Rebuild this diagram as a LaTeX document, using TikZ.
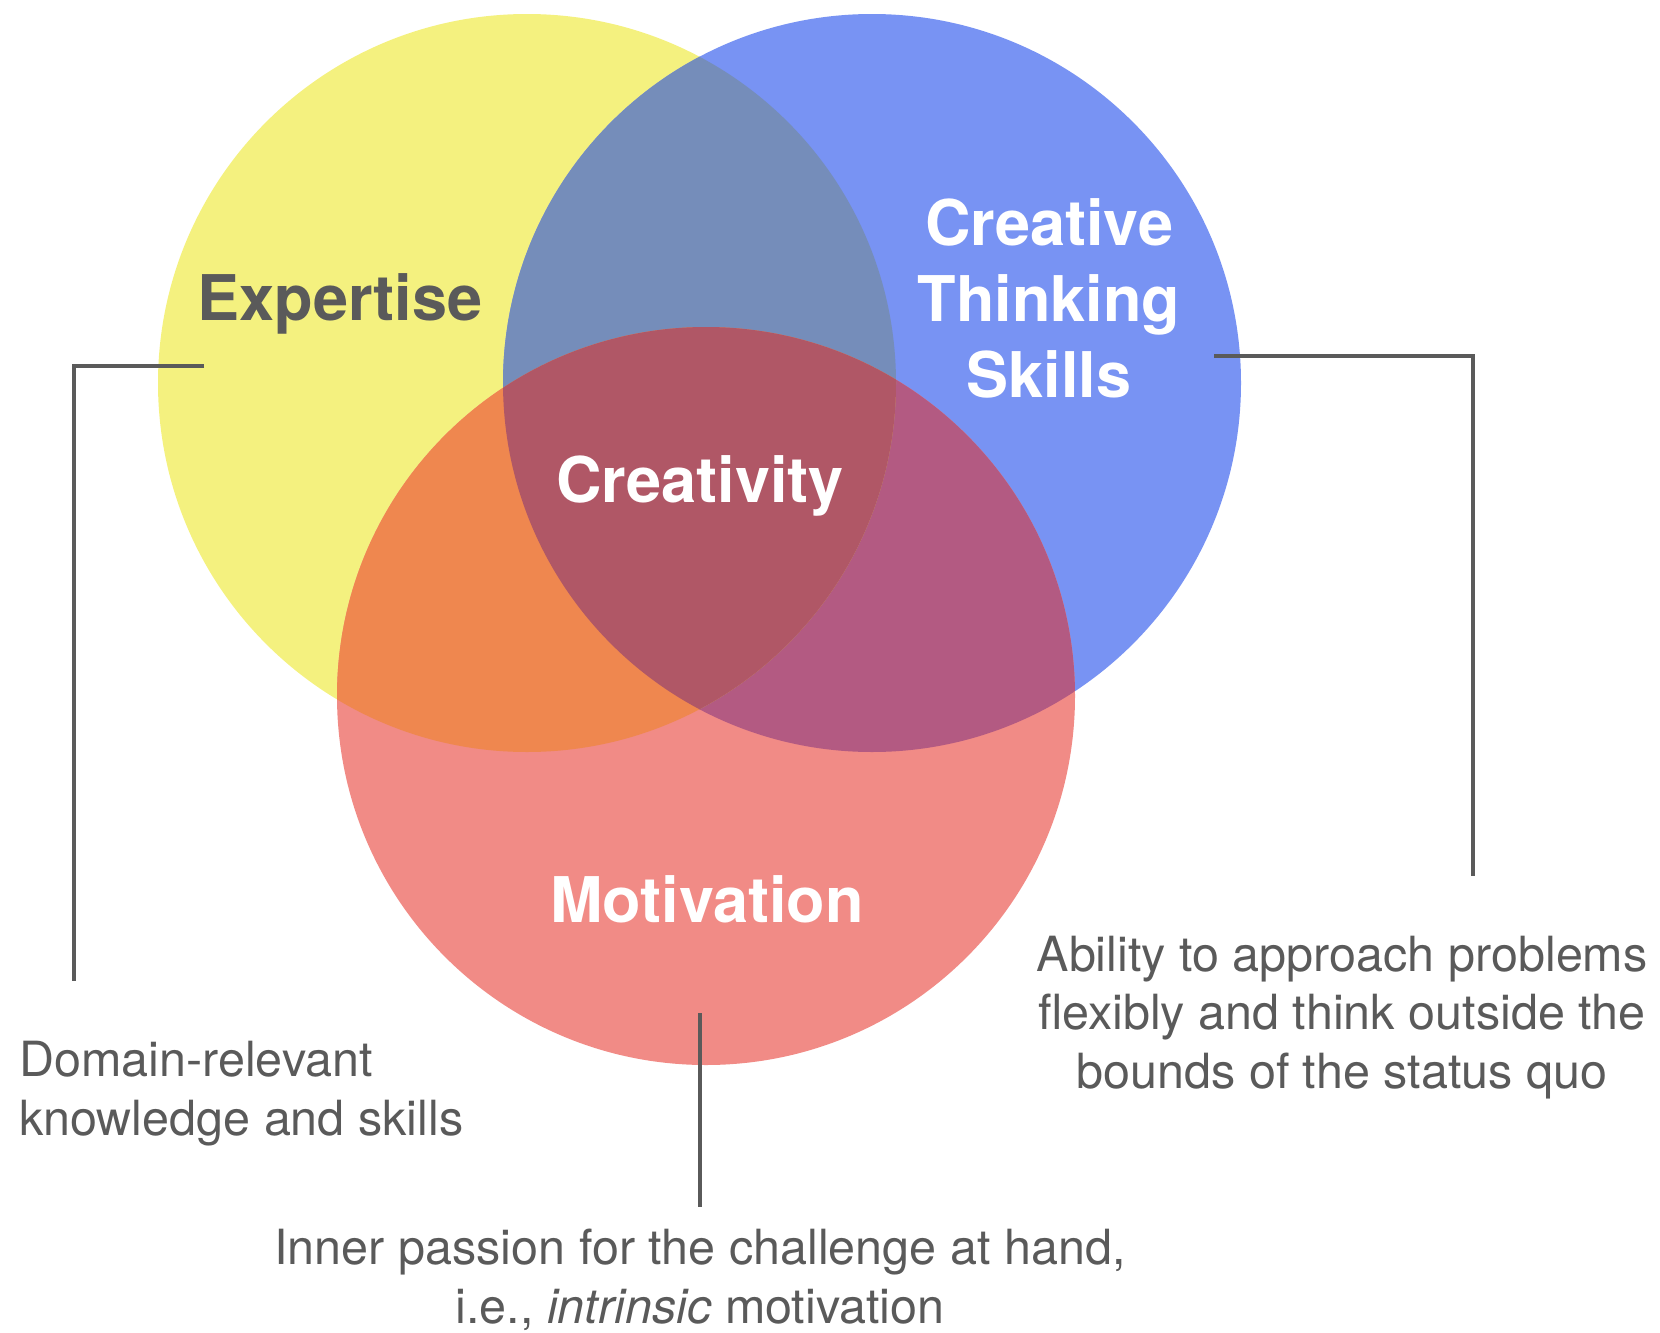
\documentclass[tikz,border=0pt]{standalone}
\usepackage{fontspec}
\setmainfont{TeX Gyre Heros}
\definecolor{expyellow}{HTML}{F4F17F}
\definecolor{thinkblue}{HTML}{7893F3}
\definecolor{motired}{HTML}{F18B86}
\definecolor{ybmix}{HTML}{758DBA}
\definecolor{yrmix}{HTML}{EF874F}
\definecolor{brmix}{HTML}{B35A82}
\definecolor{allmix}{HTML}{B05766}
\definecolor{inkgray}{HTML}{5A5A5A}

\tikzset{
    title/.style={font=\fontsize{63}{76}\selectfont\bfseries, text=white,
        align=center, inner sep=0pt, anchor=base},
    note/.style={font=\fontsize{48.5}{58.5}\selectfont, text=inkgray,
        inner sep=0pt, anchor=base},
    leader/.style={draw=inkgray, line width=4pt},
}

\begin{document}
\begin{tikzpicture}[x=1pt, y=-1pt]
    \useasboundingbox (0, 0) rectangle (1660, 1333);

    % the three circles
    \fill[expyellow] (527, 383) circle[radius=369pt];
    \fill[thinkblue] (872, 383) circle[radius=369pt];
    \fill[motired] (706, 696) circle[radius=369pt];

    % overlaps
    \begin{scope}
        \clip (872, 383) circle[radius=369pt];
        \fill[brmix] (706, 696) circle[radius=369pt];
    \end{scope}
    \begin{scope}
        \clip (527, 383) circle[radius=369pt];
        \fill[ybmix] (872, 383) circle[radius=369pt];
        \fill[yrmix] (706, 696) circle[radius=369pt];
        \clip (872, 383) circle[radius=369pt];
        \fill[allmix] (706, 696) circle[radius=369pt];
    \end{scope}

    % titles (base = last line)
    \node[title, text=inkgray] (expertise) at (340, 320) {Expertise};
    \node[title] (thinking) at (1049, 397) {Creative\\Thinking\\Skills};
    \node[title] (creativity) at (700, 502) {Creativity};
    \node[title] (motivation) at (707, 922) {Motivation};

    % notes
    \node[note, anchor=base west, align=left] (domain) at (19, 1135)
        {Domain-relevant\\knowledge and skills};
    \node[note, align=center] (ability) at (1342, 1088)
        {Ability to approach problems\\flexibly and think outside the\\bounds of the status quo};
    \node[note, align=center] (passion) at (700, 1323)
        {Inner passion for the challenge at hand,\\i.e., \textit{intrinsic} motivation};

    % leader lines
    \coordinate (exp-tip) at (204, 366);
    \coordinate (exp-foot) at (74, 981);
    \coordinate (think-tip) at (1214, 356);
    \coordinate (think-foot) at (1473, 876);
    \coordinate (moti-tip) at (700, 1013);
    \coordinate (moti-foot) at (700, 1207);
    \draw[leader] (exp-tip) -| (exp-foot);
    \draw[leader] (think-tip) -| (think-foot);
    \draw[leader] (moti-tip) -- (moti-foot);
\end{tikzpicture}
\end{document}
